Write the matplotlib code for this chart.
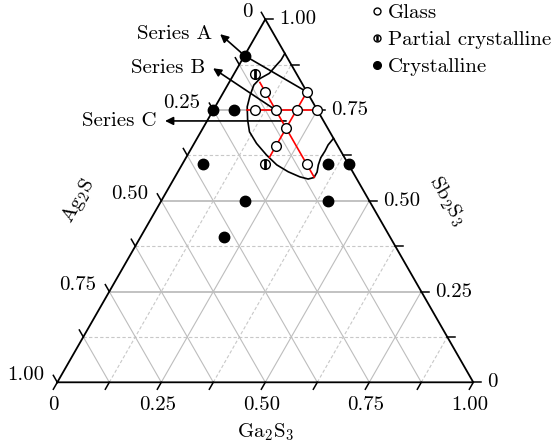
import numpy as np
import matplotlib
matplotlib.use("Agg")
import matplotlib.pyplot as plt
from matplotlib.lines import Line2D

plt.rcParams["font.family"] = "serif"
plt.rcParams["font.serif"] = ["cmr10"]
plt.rcParams["mathtext.fontset"] = "cm"
plt.rcParams["axes.formatter.use_mathtext"] = True

# compositions: Ga2S3 fraction and Sb2S3 fraction (Ag2S = rest)
glass_ga = [0.10, 0.20, 0.10, 0.15, 0.20, 0.25, 0.20, 0.20, 0.30]
glass_sb = [0.80, 0.80, 0.75, 0.75, 0.75, 0.75, 0.70, 0.65, 0.60]

partial_ga = [0.05, 0.20]
partial_sb = [0.85, 0.60]

cryst_ga = [0.00, 0.00, 0.05, 0.05, 0.35, 0.40, 0.20, 0.40, 0.20]
cryst_sb = [0.90, 0.75, 0.75, 0.60, 0.60, 0.60, 0.50, 0.50, 0.40]

# glass-forming region boundary (ends on the Ag2S = 0 side)
region_ga = [0.094, 0.094, 0.090, 0.084, 0.069, 0.063, 0.068, 0.077, 0.096, 0.117,
             0.150, 0.190, 0.228, 0.265, 0.300, 0.323, 0.335, 0.335, 0.328, 0.324,
             0.325, 0.324, 0.328]
region_sb = [0.906, 0.888, 0.874, 0.851, 0.837, 0.819, 0.791, 0.759, 0.723, 0.690,
             0.658, 0.626, 0.599, 0.580, 0.566, 0.560, 0.564, 0.579, 0.599, 0.619,
             0.637, 0.654, 0.672]

# red composition lines inside the glass region
red_lines = {
    "Sb2S3 = 0.75": ([0.080, 0.25], [0.75, 0.75]),
    "Ag2S = 0.10": ([0.074, 0.335], [0.826, 0.565]),
    "Ga2S3 = 0.20": ([0.20, 0.20], [0.80, 0.62]),
}

# series arrows: path points (ga, sb), last point is the arrow tip
series_paths = {
    "Series A": ([0.20, 0.00, -0.088], [0.80, 0.90, 0.959]),
    "Series B": ([0.15, -0.058], [0.75, 0.865]),
    "Series C": ([0.19, -0.101], [0.72, 0.72]),
}

tick_vals = np.arange(0, 1.001, 0.125)
tick_labels = ["0", "0.25", "0.50", "0.75", "1.00"]

H = 363 / 416
FS = 15


def tern(ga, sb):
    ga = np.asarray(ga, float)
    sb = np.asarray(sb, float)
    return ga + sb / 2, sb * H


fig = plt.figure(figsize=(5.56, 4.48), dpi=100)
ax = fig.add_axes([0, 0, 1, 1])
ax.set_xlim(-57.3 / 416, (556 - 57.3) / 416)
ax.set_ylim(-(448 - 382.3) / 416, 382.3 / 416)
ax.axis("off")

# grid
for i, v in enumerate(tick_vals[1:-1], start=1):
    major = i % 2 == 0
    ls = "-" if major else (0, (3, 2))
    col = "#bdbdbd" if major else "#c8c8c8"
    # Sb2S3 constant (horizontal)
    x, y = tern([0, 1 - v], [v, v])
    ax.plot(x, y, color=col, lw=1.3 if major else 0.8, ls=ls, zorder=1)
    # Ga2S3 constant
    x, y = tern([v, v], [0, 1 - v])
    ax.plot(x, y, color=col, lw=0.8, ls=ls, zorder=1)
    # Ag2S constant
    x, y = tern([1 - v, 0], [0, 1 - v])
    ax.plot(x, y, color="#bdbdbd", lw=0.8, zorder=1)

# triangle frame
x, y = tern([0, 1, 0, 0], [0, 0, 1, 0])
ax.plot(x, y, color="black", lw=1.3, zorder=3)

# ticks and tick labels
L = 8 / 416
n = np.hypot(0.5, H)
for i, v in enumerate(tick_vals):
    # bottom: Ga2S3
    x0, y0 = tern(v, 0)
    x1, y1 = x0 - 0.5 / n * L, y0 - H / n * L
    ax.plot([x0, x1], [y0, y1], color="black", lw=1.1, zorder=3)
    # left: Ag2S (value v at Sb = 1 - v)
    x0, y0 = tern(0, 1 - v)
    x2, y2 = x0 - 0.5 / n * L, y0 + H / n * L
    ax.plot([x0, x2], [y0, y2], color="black", lw=1.1, zorder=3)
    # right: Sb2S3
    x0, y0 = tern(1 - v, v)
    x3, y3 = x0 + L, y0
    ax.plot([x0, x3], [y0, y3], color="black", lw=1.1, zorder=3)
    if i % 2 == 0:
        lab = tick_labels[i // 2]
        ax.annotate(lab, (x1, y1), xytext=(0, -7), textcoords="offset pixels",
                    ha="center", va="top", fontsize=FS)
        ax.annotate(lab, (x2, y2), xytext=(-9, 0), textcoords="offset pixels",
                    ha="right", va="center", fontsize=FS)
        ax.annotate(lab, (x3, y3), xytext=(6, 0), textcoords="offset pixels",
                    ha="left", va="center", fontsize=FS)

# axis titles
ax.annotate(r"$\mathrm{Ga_2S_3}$", tern(0.5, 0), xytext=(0, -50), textcoords="offset pixels",
            ha="center", va="center", fontsize=FS)
ax.annotate(r"$\mathrm{Ag_2S}$", tern(0, 0.5), xytext=(-83, 0), textcoords="offset pixels",
            ha="center", va="center", fontsize=FS, rotation=60)
ax.annotate(r"$\mathrm{Sb_2S_3}$", tern(0.5, 0.5), xytext=(78, 0), textcoords="offset pixels",
            ha="center", va="center", fontsize=FS, rotation=-60)

# glass region boundary
x, y = tern(region_ga, region_sb)
ax.plot(x, y, color="black", lw=1.2, zorder=4)

for ga, sb in red_lines.values():
    x, y = tern(ga, sb)
    ax.plot(x, y, color="red", lw=1.2, zorder=5)

# series arrows
for name, (ga, sb) in series_paths.items():
    x, y = tern(ga, sb)
    ax.plot(x[:-1], y[:-1], color="black", lw=1.2, zorder=4)
    ax.annotate("", xy=(x[-1], y[-1]), xytext=(x[-2], y[-2]),
                arrowprops=dict(arrowstyle="-|>", color="black", lw=1.2,
                                mutation_scale=12, shrinkA=0, shrinkB=0), zorder=4)
    ax.annotate(name, (x[-1], y[-1]), xytext=(-8, 0), textcoords="offset pixels",
                ha="right", va="center", fontsize=FS)

# data points
x, y = tern(glass_ga, glass_sb)
ax.plot(x, y, "o", ms=7, mfc="white", mec="black", mew=1.0, ls="none", zorder=6)
x, y = tern(partial_ga, partial_sb)
ax.plot(x, y, "o", ms=7, mfc="white", mec="black", mew=1.0, ls="none", zorder=6)
ax.plot(x, y, "|", ms=7, mec="black", mew=2.0, ls="none", zorder=7)
x, y = tern(cryst_ga, cryst_sb)
ax.plot(x, y, "o", ms=7.5, color="black", ls="none", zorder=6)

h_glass = Line2D([], [], marker="o", ms=5, mfc="white", mec="black", mew=1.0, ls="none")
h_part = (Line2D([], [], marker="o", ms=5, mfc="white", mec="black", mew=1.0, ls="none"),
          Line2D([], [], marker="|", ms=5, mec="black", mew=1.8, ls="none"))
h_cryst = Line2D([], [], marker="o", ms=5.5, color="black", ls="none")
fig.legend([h_glass, h_part, h_cryst], ["Glass", "Partial crystalline", "Crystalline"],
           loc="upper left", bbox_to_anchor=(370.5 / 556, 1 - 3.5 / 448), frameon=False,
           fontsize=FS, handlelength=0.6, handletextpad=0.25, labelspacing=0.4,
           borderpad=0.0, borderaxespad=0.0)

fig.savefig("out.png", dpi=100)
